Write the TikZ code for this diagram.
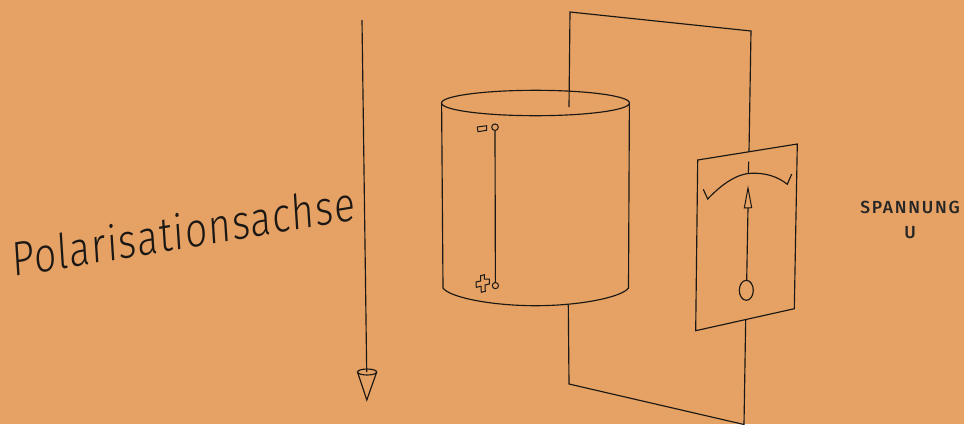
\documentclass[tikz,border=0pt]{standalone}
\usepackage{fontspec}
\setmainfont{Fira Sans}
\newfontfamily\axisfont[LetterSpace=3]{Fira Sans Light}
\newfontfamily\voltfont[LetterSpace=10]{Fira Sans Medium}
\definecolor{bgc}{HTML}{E5A264}
\definecolor{inkc}{HTML}{1A1714}
\tikzset{ln/.style={draw=inkc,line width=1.15pt,line join=miter},
 thin ln/.style={draw=inkc,line width=1pt}}
\begin{document}
\begin{tikzpicture}[x=1pt,y=-1pt]
\useasboundingbox (0,0) rectangle (964,424);
\fill[bgc] (0,0) rectangle (964,424);
% axis
\draw[ln] (362,20) -- (366.7,372);
\draw[ln] (357.5,372) -- (366.8,400) -- (376.7,372);
\draw[ln] (367.1,372) ellipse[x radius=9.6,y radius=3];
% frame
\draw[ln] (569,107) -- (570,12) -- (751,31) -- (749,152);
\draw[ln] (568.3,305) -- (569,384) -- (744,424.5) -- (745.7,319);
% cylinder
\draw[ln] (535.5,103) ellipse[x radius=94,y radius=12.7];
\draw[ln] (441.6,103) -- (443,288) .. controls (449,297) and (490,305.7) .. (535.5,305.7) .. controls (581,305.7) and (622,297) .. (628.5,288) -- (629.4,103);
% electrodes
\draw[thin ln] (495,127.2) circle[radius=3.3];
\draw[thin ln] (495.4,285.6) circle[radius=3.1];
\draw[ln] (495,130.5) -- (495.4,282.5);
\draw[thin ln] (477.3,127) -- (486.7,125.7) -- (486.7,130.3) -- (478,131.7) -- cycle;
\draw[thin ln] (480.7,275.7) -- (484.3,274.7) -- (484.3,279) -- (489.3,279) -- (489.3,284) -- (485,285) -- (485.3,291.3) -- (481.3,292.3) -- (481,286.3) -- (476.3,287.3) -- (476,282) -- (480.7,281) -- cycle;
% meter
\draw[ln] (697.7,160) -- (797.3,144) -- (794.3,308.7) -- (695.7,330.7) -- cycle;
\draw[ln] (748.7,161.7) -- (748.3,173.3);
\draw[ln] (703.3,189.3) -- (707.7,199) .. controls (722,184) and (737,173.5) .. (752,173.2) .. controls (765,173) and (777,176) .. (787.3,184.3) -- (791.7,174);
\draw[ln] (746.7,280) -- (748,208);
\draw[thin ln] (748,188) -- (744.3,208) -- (751.7,207.7) -- cycle;
\draw[ln] (746.3,290.3) ellipse[x radius=7,y radius=10];
% labels
\node[inner sep=0pt,anchor=base west,rotate=9.4,xslant=0.1,xscale=0.815,transform shape,text=inkc,font=\axisfont\fontsize{48}{48}\selectfont] (axislabel) at (13.5,277) {Polarisationsachse};
\node[inner sep=0pt,align=center,text=black!85,font=\voltfont\fontsize{17.5}{25}\selectfont] (voltlabel) at (910,219.5) {SPANNUNG\\U};
\end{tikzpicture}
\end{document}
